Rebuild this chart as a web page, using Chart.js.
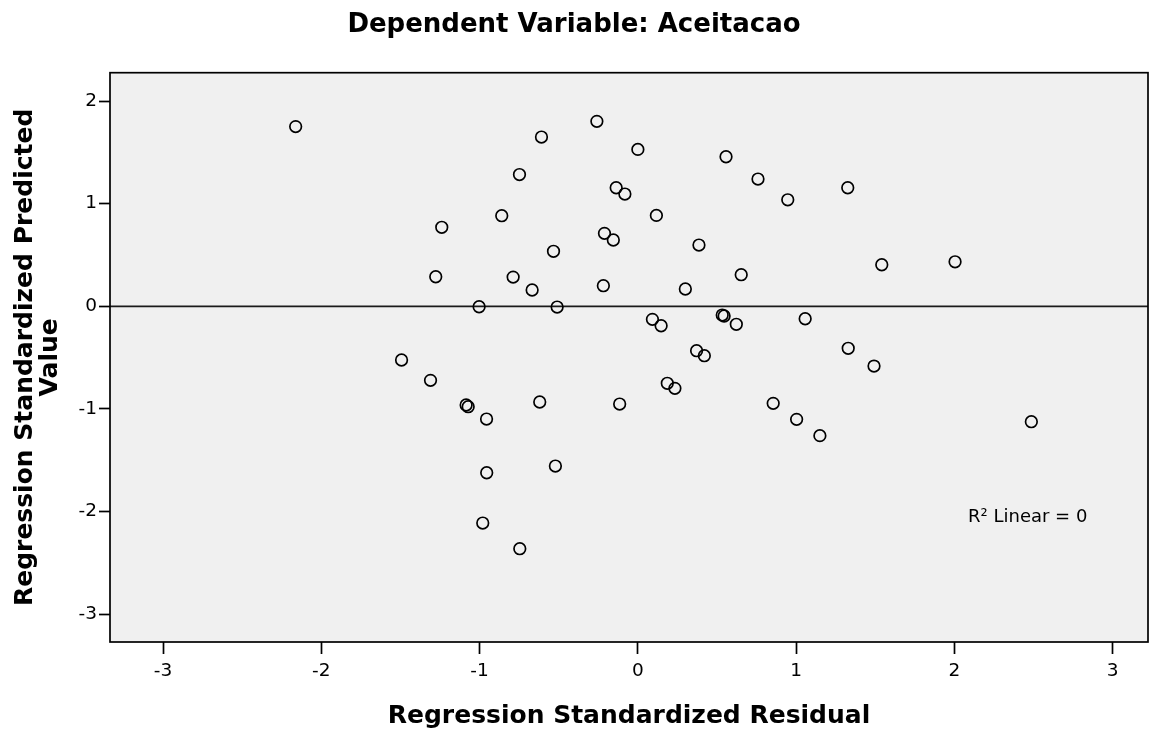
<!DOCTYPE html>
<html>
<head>
<meta charset="utf-8">
<script src="https://cdn.jsdelivr.net/npm/chart.js@4.4.1/dist/chart.umd.min.js"></script>
<style>
  html, body { margin: 0; padding: 0; background: #ffffff; }
  #wrap { width: 1161px; height: 732px; }
</style>
</head>
<body>
<div id="wrap"><canvas id="c" width="1161" height="732"></canvas></div>
<script>
// ---- data ----
const residuals = [
  -2.162, -0.609, -0.259, -0.748, 0.000, 0.557, -0.137, -0.082, 0.759, 1.326,
   0.947, -0.860, 0.117, -1.239, -0.211, -0.155, 0.386, -0.533, 0.653, 1.541,
   2.004, -1.277, -0.788, -0.218, 0.300, -0.668, -1.003, -0.510, 0.092, 0.147,
   0.533, 0.545, 0.622, 1.057, 0.371, 0.420, 1.329, 1.492, -1.493, -1.310,
   0.186, 0.234, -1.085, -1.072, -0.620, -0.115, 0.855, 1.003, -0.956, 1.150,
   2.486, -0.955, -0.521, -0.980, -0.746
];
const predicted = [
   1.751, 1.649, 1.802, 1.284, 1.529, 1.457, 1.155, 1.094, 1.240, 1.155,
   1.038, 0.883, 0.886, 0.770, 0.711, 0.646, 0.597, 0.536, 0.308, 0.405,
   0.434, 0.288, 0.285, 0.201, 0.169, 0.159, -0.004, -0.007, -0.127, -0.189,
  -0.085, -0.094, -0.175, -0.121, -0.432, -0.481, -0.409, -0.582, -0.523, -0.721,
  -0.750, -0.799, -0.961, -0.978, -0.932, -0.952, -0.945, -1.101, -1.098, -1.260,
  -1.124, -1.621, -1.556, -2.111, -2.361
];
const xRange = [-3.335, 3.223];
const yRange = [-3.27, 2.276];
const fitLineX = [-3.335, 3.223];
const fitLineY = [0, 0];
const xTickValues = [-3, -2, -1, 0, 1, 2, 3];
const yTickValues = [-3, -2, -1, 0, 1, 2];
const chartTitle = 'Dependent Variable: Aceitacao';
const xAxisTitle = 'Regression Standardized Residual';
const yAxisTitle = ['Regression Standardized Predicted', 'Value'];
const fitLabel = 'R\u00B2 Linear = 0';

// ---- build ----
const scatterPoints = residuals.map((x, i) => ({ x: x, y: predicted[i] }));
const fitPoints = fitLineX.map((x, i) => ({ x: x, y: fitLineY[i] }));

const plotDecor = {
  id: 'plotDecor',
  beforeDatasetsDraw(chart) {
    const { ctx, chartArea: a } = chart;
    ctx.save();
    ctx.fillStyle = '#f0f0f0';
    ctx.fillRect(a.left, a.top, a.right - a.left, a.bottom - a.top);
    ctx.restore();
  },
  afterDraw(chart) {
    const { ctx, chartArea: a } = chart;
    ctx.save();
    ctx.strokeStyle = '#000000';
    ctx.lineWidth = 1.7;
    ctx.strokeRect(a.left, a.top, a.right - a.left, a.bottom - a.top);
    ctx.fillStyle = '#000000';
    ctx.font = '18px "DejaVu Sans"';
    ctx.textAlign = 'left';
    ctx.textBaseline = 'alphabetic';
    ctx.fillText(fitLabel, a.right - 180, a.bottom - 120);
    ctx.restore();
  }
};

new Chart(document.getElementById('c'), {
  type: 'scatter',
  data: {
    datasets: [
      {
        label: 'Residuals',
        data: scatterPoints,
        pointStyle: 'circle',
        pointRadius: 5.8,
        pointHoverRadius: 5.8,
        pointBorderWidth: 1.7,
        borderColor: '#000000',
        backgroundColor: 'rgba(0,0,0,0)',
        showLine: false
      },
      {
        type: 'line',
        label: 'Fit',
        data: fitPoints,
        borderColor: '#1a1a1a',
        borderWidth: 1.6,
        pointRadius: 0,
        fill: false,
        tension: 0
      }
    ]
  },
  options: {
    responsive: false,
    animation: false,
    devicePixelRatio: 1,
    events: [],
    layout: { padding: { left: 0, right: 13, top: 0, bottom: 0 } },
    plugins: {
      legend: { display: false },
      tooltip: { enabled: false },
      title: {
        display: true,
        text: chartTitle,
        color: '#000000',
        font: { family: '"DejaVu Sans"', size: 26, weight: 'bold', lineHeight: 1.2 },
        padding: { top: 10, bottom: 31.5 }
      }
    },
    scales: {
      x: {
        type: 'linear',
        position: 'bottom',
        min: xRange[0],
        max: xRange[1],
        afterBuildTicks(scale) { scale.ticks = xTickValues.map(v => ({ value: v })); },
        afterFit(scale) { scale.height = 90; },
        ticks: {
          color: '#000000',
          font: { family: '"DejaVu Sans"', size: 18.5 },
          padding: 6,
          maxRotation: 0,
          autoSkip: false,
          callback: (v) => String(v)
        },
        grid: {
          drawOnChartArea: false,
          drawTicks: true,
          tickLength: 12,
          tickWidth: 1.7,
          tickColor: '#000000'
        },
        border: { display: false },
        title: {
          display: true,
          text: xAxisTitle,
          color: '#000000',
          font: { family: '"DejaVu Sans"', size: 25, weight: 'bold', lineHeight: 1.2 },
          padding: { top: 0, bottom: 1 }
        }
      },
      y: {
        type: 'linear',
        position: 'left',
        min: yRange[0],
        max: yRange[1],
        afterBuildTicks(scale) { scale.ticks = yTickValues.map(v => ({ value: v })); },
        afterFit(scale) { scale.width = 110; },
        ticks: {
          color: '#000000',
          font: { family: '"DejaVu Sans"', size: 18.5 },
          padding: 2,
          autoSkip: false,
          callback: (v) => String(v)
        },
        grid: {
          drawOnChartArea: false,
          drawTicks: true,
          tickLength: 11,
          tickWidth: 1.7,
          tickColor: '#000000'
        },
        border: { display: false },
        title: {
          display: true,
          text: yAxisTitle,
          color: '#000000',
          font: { family: '"DejaVu Sans"', size: 25, weight: 'bold', lineHeight: 1.0 },
          padding: { top: 13, bottom: 0 }
        }
      }
    }
  },
  plugins: [plotDecor]
});
</script>
</body>
</html>
